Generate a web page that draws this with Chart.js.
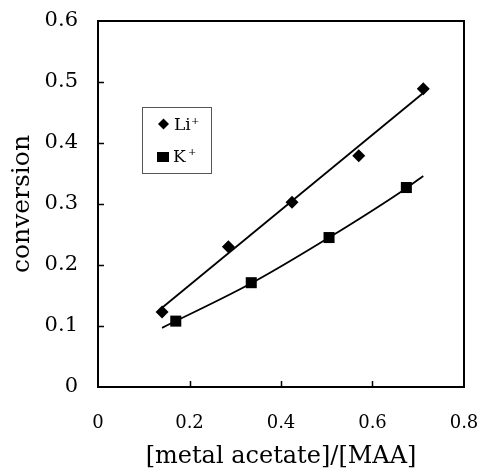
<!DOCTYPE html>
<html>
<head>
<meta charset="utf-8">
<script src="https://cdn.jsdelivr.net/npm/chart.js@4/dist/chart.umd.min.js"></script>
<style>
	html, body { margin: 0; padding: 0; background: #fff; }
	#wrap { width: 481px; height: 469px; position: relative; }
</style>
</head>
<body>
<div id="wrap"><canvas id="conversionChart"></canvas></div>
<script>
// measured points
const liX = [0.14, 0.285, 0.424, 0.57, 0.711];
const liY = [0.123, 0.23, 0.303, 0.379, 0.489];
const kX = [0.17, 0.335, 0.505, 0.674];
const kY = [0.108, 0.171, 0.245, 0.327];

// trend lines as drawn in the figure
const liFitX = [0.14, 0.711];
const liFitY = [0.13, 0.482];
const kFitX = [0.14, 0.335, 0.505, 0.674, 0.711];
const kFitY = [0.097, 0.17, 0.245, 0.326, 0.346];

const xTicks = [0, 0.2, 0.4, 0.6, 0.8];
const yTicks = [0, 0.1, 0.2, 0.3, 0.4, 0.5, 0.6];

const serif = "'DejaVu Serif', serif";

function toPoints(xs, ys) {
	return xs.map((x, i) => ({ x: x, y: ys[i] }));
}

// frame + inward tick marks
const frameTicksPlugin = {
	id: "frameTicks",
	afterDraw(chart) {
		const { ctx, chartArea } = chart;
		const xs = chart.scales.x;
		const ys = chart.scales.y;
		ctx.save();
		ctx.strokeStyle = "#000";
		ctx.lineWidth = 2;
		ctx.strokeRect(chartArea.left, chartArea.top, chartArea.right - chartArea.left, chartArea.bottom - chartArea.top);
		ctx.lineWidth = 1.5;
		ctx.beginPath();
		xTicks.forEach((v) => {
			if (v === 0 || v === 0.8) return;
			const px = Math.round(xs.getPixelForValue(v)) + 0.5;
			ctx.moveTo(px, chartArea.bottom);
			ctx.lineTo(px, chartArea.bottom - 6);
		});
		yTicks.forEach((v) => {
			if (v === 0 || v === 0.6) return;
			const py = Math.round(ys.getPixelForValue(v)) + 0.5;
			ctx.moveTo(chartArea.left, py);
			ctx.lineTo(chartArea.left + 6, py);
		});
		ctx.stroke();
		ctx.restore();
	},
};

// boxed legend like the original
const boxLegendPlugin = {
	id: "boxLegend",
	afterDraw(chart) {
		const ctx = chart.ctx;
		ctx.save();
		ctx.strokeStyle = "#555";
		ctx.lineWidth = 1;
		ctx.strokeRect(142.5, 107.5, 69, 66);

		ctx.fillStyle = "#000";
		// diamond
		ctx.beginPath();
		ctx.moveTo(163.5, 118.5);
		ctx.lineTo(169, 124);
		ctx.lineTo(163.5, 129.5);
		ctx.lineTo(158, 124);
		ctx.closePath();
		ctx.fill();
		// square
		ctx.fillRect(157, 152, 12, 10);

		ctx.textBaseline = "alphabetic";
		ctx.textAlign = "left";
		ctx.font = "17px " + serif;
		ctx.fillText("Li", 174, 130);
		ctx.fillText("K", 173, 162);
		ctx.font = "10px " + serif;
		ctx.fillText("+", 191, 124);
		ctx.fillText("+", 188, 155);
		ctx.restore();
	},
};

const ctx = document.getElementById("conversionChart").getContext("2d");
const chart = new Chart(ctx, {
	type: "scatter",
	data: {
		datasets: [
			{
				label: "Li+ fit",
				data: toPoints(liFitX, liFitY),
				showLine: true,
				borderColor: "#000",
				borderWidth: 1.8,
				pointRadius: 0,
			},
			{
				label: "K+ fit",
				data: toPoints(kFitX, kFitY),
				showLine: true,
				borderColor: "#000",
				borderWidth: 1.8,
				pointRadius: 0,
				cubicInterpolationMode: "monotone",
			},
			{
				label: "Li+",
				data: toPoints(liX, liY),
				pointStyle: "rectRot",
				pointRadius: 6.5,
				backgroundColor: "#000",
				borderColor: "#000",
				borderWidth: 0,
			},
			{
				label: "K+",
				data: toPoints(kX, kY),
				pointStyle: "rect",
				pointRadius: 7.8,
				backgroundColor: "#000",
				borderColor: "#000",
				borderWidth: 0,
			},
		],
	},
	options: {
		responsive: true,
		maintainAspectRatio: false,
		animation: false,
		events: [],
		layout: {
			padding: { top: 21, right: 17, left: 0, bottom: 0 },
		},
		plugins: {
			legend: { display: false },
			tooltip: { enabled: false },
		},
		scales: {
			x: {
				type: "linear",
				min: 0,
				max: 0.8,
				afterBuildTicks: (scale) => {
					scale.ticks = xTicks.map((v) => ({ value: v }));
				},
				afterFit: (scale) => {
					scale.height = 82;
				},
				// labels pushed down via tickLength (marks themselves hidden)
				grid: { display: false, drawTicks: true, tickLength: 26 },
				border: { display: false },
				ticks: {
					color: "#000",
					padding: 0,
					maxRotation: 0,
					font: { family: serif, size: 18 },
					callback: (v) => (v === 0 ? "0" : v.toFixed(1)),
				},
				title: {
					display: true,
					text: "[metal acetate]/[MAA]",
					color: "#000",
					font: { family: serif, size: 24, lineHeight: 1 },
					padding: { top: 0, bottom: 0 },
				},
			},
			y: {
				type: "linear",
				min: 0,
				max: 0.6,
				afterBuildTicks: (scale) => {
					scale.ticks = yTicks.map((v) => ({ value: v }));
				},
				afterFit: (scale) => {
					scale.width = 98;
				},
				grid: { display: false, drawTicks: true, tickLength: 20 },
				border: { display: false },
				ticks: {
					color: "#000",
					padding: 0,
					font: { family: serif, size: 21 },
					callback: (v) => (v === 0 ? "0" : v.toFixed(1)),
				},
				title: {
					display: true,
					text: "conversion",
					color: "#000",
					font: { family: serif, size: 25, lineHeight: 1 },
					padding: { top: 10, bottom: 0 },
				},
			},
		},
	},
	plugins: [frameTicksPlugin, boxLegendPlugin],
});
</script>
</body>
</html>
